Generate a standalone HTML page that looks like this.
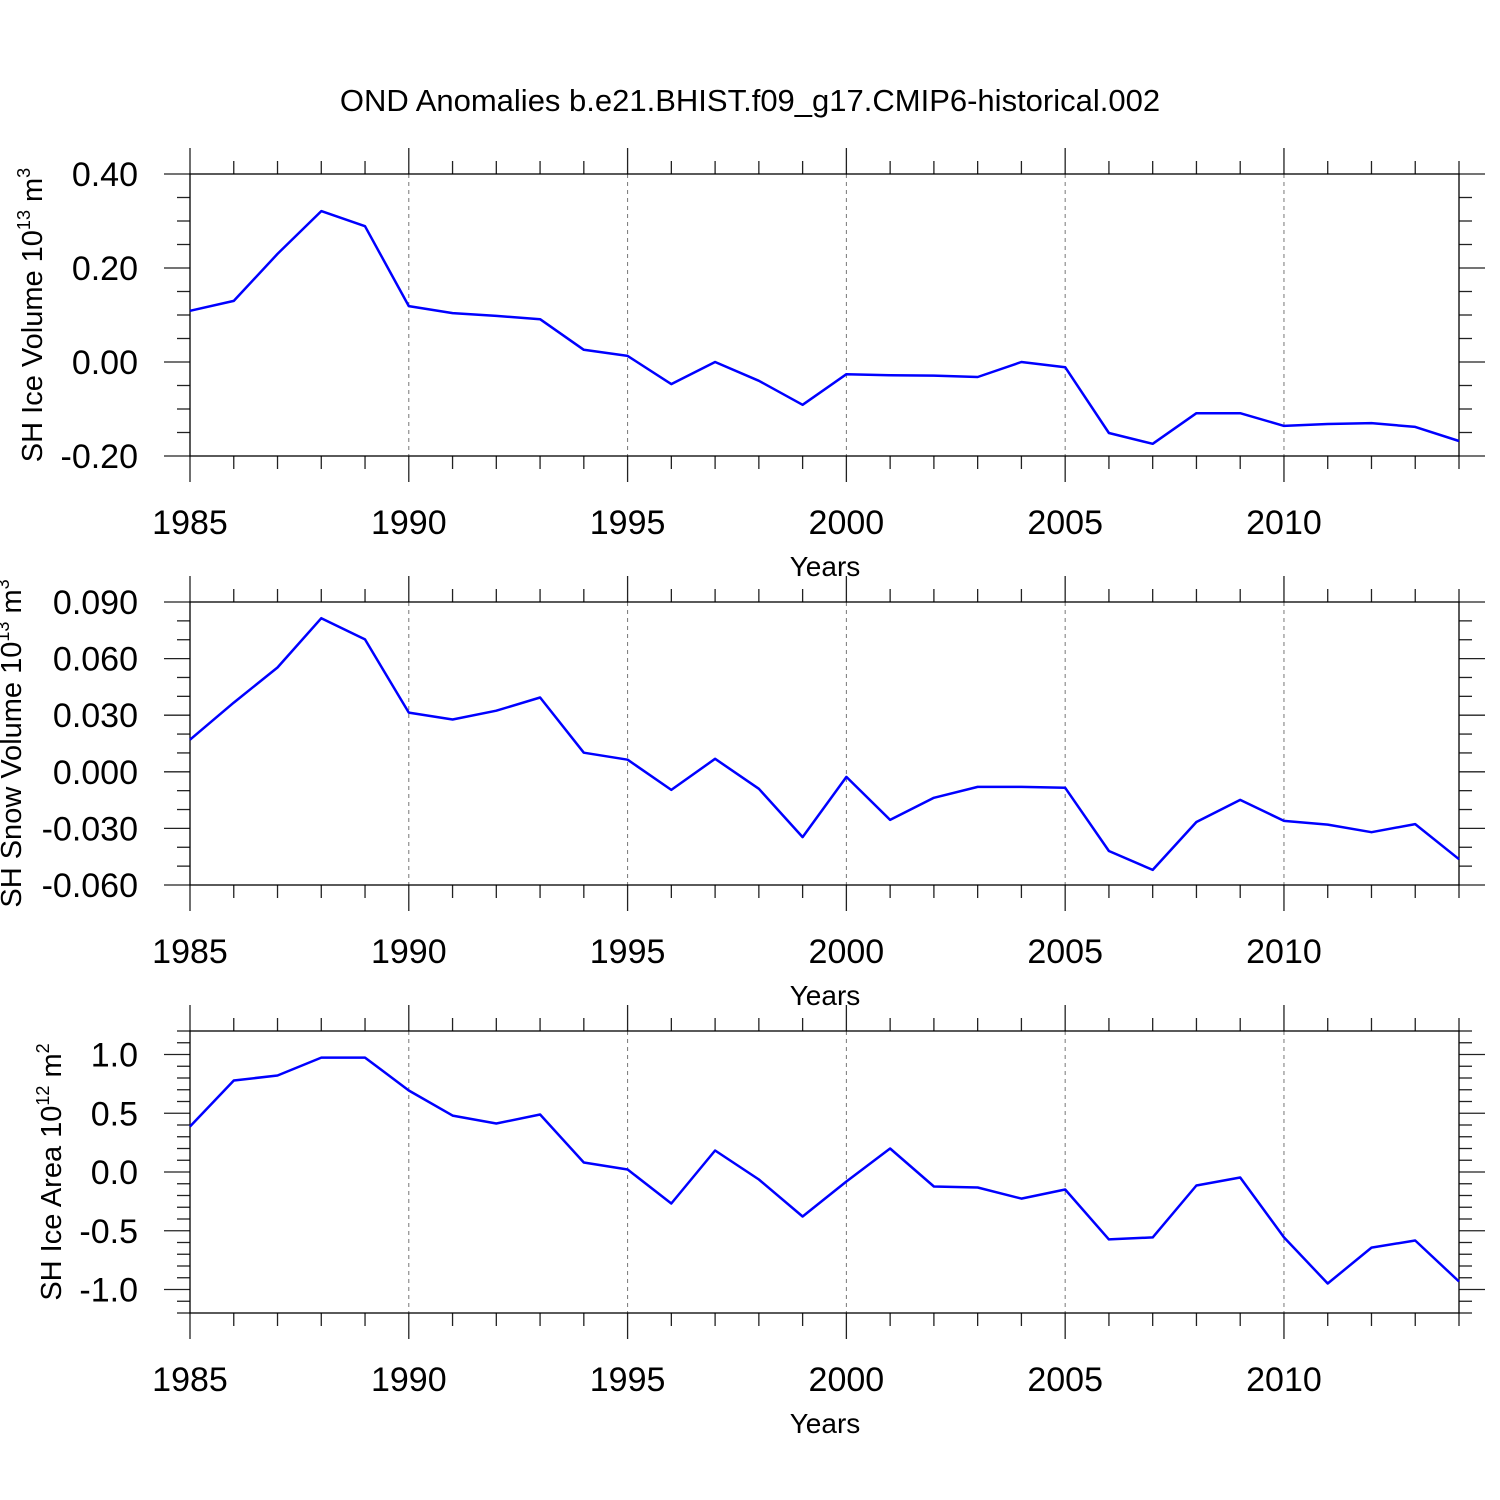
<!DOCTYPE html>
<html><head><meta charset="utf-8"><style>
body{margin:0;background:#fff}
svg{display:block}
text{font-family:"Liberation Sans",sans-serif;fill:#000}
</style></head><body>
<svg id="c" width="1500" height="1500" viewBox="0 0 1500 1500">
<text x="750" y="111" font-size="31" text-anchor="middle">OND Anomalies b.e21.BHIST.f09_g17.CMIP6-historical.002</text>
</svg>
<script>
const years = [1985,1986,1987,1988,1989,1990,1991,1992,1993,1994,1995,1996,1997,1998,1999,2000,2001,2002,2003,2004,2005,2006,2007,2008,2009,2010,2011,2012,2013,2014];
const iceVolume = [0.109,0.13,0.23,0.321,0.289,0.119,0.104,0.098,0.091,0.026,0.013,-0.047,0.0,-0.04,-0.091,-0.026,-0.028,-0.029,-0.032,0.0,-0.011,-0.151,-0.174,-0.109,-0.109,-0.136,-0.132,-0.13,-0.138,-0.168];
const snowVolume = [0.017,0.0367,0.0553,0.0814,0.0702,0.0314,0.0277,0.0324,0.0394,0.0101,0.0064,-0.0096,0.0069,-0.009,-0.0346,-0.0027,-0.0255,-0.0138,-0.008,-0.008,-0.0085,-0.042,-0.052,-0.0266,-0.0149,-0.026,-0.028,-0.032,-0.0277,-0.0463];
const iceArea = [0.387,0.779,0.821,0.974,0.974,0.694,0.48,0.413,0.489,0.081,0.021,-0.268,0.183,-0.064,-0.379,-0.081,0.2,-0.123,-0.132,-0.226,-0.149,-0.574,-0.557,-0.115,-0.047,-0.557,-0.949,-0.643,-0.583,-0.932];
const xTicks = [1985,1990,1995,2000,2005,2010];
const yTicks1 = [0.40,0.20,0.00,-0.20];
const yTickLabels1 = ["0.40","0.20","0.00","-0.20"];
const yTicks2 = [0.09,0.06,0.03,0,-0.03,-0.06];
const yTickLabels2 = ["0.090","0.060","0.030","0.000","-0.030","-0.060"];
const yTicks3 = [1,0.5,0,-0.5,-1];
const yTickLabels3 = ["1.0","0.5","0.0","-0.5","-1.0"];

const svg = document.getElementById('c');
const NS = 'http://www.w3.org/2000/svg';
function mk(tag, attrs, parent){const e=document.createElementNS(NS,tag);for(const k in attrs)e.setAttribute(k,attrs[k]);(parent||svg).appendChild(e);return e;}
const X0=190,X1=1459;
function xs(yr){return X0+(yr-1985)/(2014-1985)*(X1-X0);}

function panel(name, top, bot, ymax, ymin, minorStep, ticks, labels, values, labelFont, ytitle, sup, unit, unitSup, ytitleX){
  const g = mk('g',{});
  
  
  const ys = v => top+(ymax-v)/(ymax-ymin)*(bot-top);
  for(const t of xTicks){ if(t===1985) continue;
    const l=mk('line',{x1:xs(t),x2:xs(t),y1:top,y2:bot,stroke:'#777','stroke-width':1,'stroke-dasharray':'4,4'},g);
    
     }
  for(const yr of years){
    const major = (yr%5===0);
    const len = major?26:13;
    mk('line',{x1:xs(yr),x2:xs(yr),y1:top-len,y2:top,stroke:'#222','stroke-width':1.3},g);
    mk('line',{x1:xs(yr),x2:xs(yr),y1:bot,y2:bot+len,stroke:'#222','stroke-width':1.3},g);
  }
  const n = Math.round((ymax-ymin)/minorStep);
  for(let i=0;i<=n;i++){
    const v = ymax - i*minorStep;
    const isMajor = ticks.some(t=>Math.abs(t-v)<minorStep/10);
    const len = isMajor?26:13;
    const y = ys(v);
    mk('line',{x1:X0-len,x2:X0,y1:y,y2:y,stroke:'#222','stroke-width':1.3},g);
    mk('line',{x1:X1,x2:X1+len,y1:y,y2:y,stroke:'#222','stroke-width':1.3},g);
  }
  const fr=mk('rect',{x:X0,y:top,width:X1-X0,height:bot-top,fill:'none',stroke:'#000','stroke-width':1.3},g);
  
  
  ticks.forEach((t,i)=>{
    const tx=mk('text',{x:138,y:ys(t)+12,'font-size':labelFont,'text-anchor':'end'},g);
    tx.textContent=labels[i];
    
    
  });
  xTicks.forEach(t=>{
    const tx=mk('text',{x:xs(t),y:bot+78,'font-size':34,'text-anchor':'middle'},g);
    tx.textContent=String(t);
    
    
  });
  const xt=mk('text',{x:825,y:bot+120,'font-size':28,'text-anchor':'middle'},g);
  xt.textContent='Years';
  
  
  const cy=(top+bot)/2;
  const yt=mk('text',{x:0,y:0,'font-size':29,'text-anchor':'middle',transform:`translate(${ytitleX},${cy}) rotate(-90)`},g);
  const s1=mk('tspan',{},yt); s1.textContent=ytitle;
  const s2=mk('tspan',{dy:-12,'font-size':18},yt); s2.textContent=sup;
  const s3=mk('tspan',{dy:12},yt); s3.textContent=' '+unit;
  const s4=mk('tspan',{dy:-12,'font-size':18},yt); s4.textContent=unitSup;
  
  
  const pts = values.map((v,i)=>xs(years[i]).toFixed(1)+','+ys(v).toFixed(1)).join(' ');
  const pl=mk('polyline',{points:pts,fill:'none',stroke:'#0000ff','stroke-width':2.5,'stroke-linejoin':'round'},g);
  
  
}
panel('ice-volume',174,456,0.40,-0.20,0.05,yTicks1,yTickLabels1,iceVolume,34,'SH Ice Volume 10','13','m','3',42);
panel('snow-volume',602,885,0.09,-0.06,0.01,yTicks2,yTickLabels2,snowVolume,34,'SH Snow Volume 10','13','m','3',21);
panel('ice-area',1031,1313,1.2,-1.2,0.1,yTicks3,yTickLabels3,iceArea,34,'SH Ice Area 10','12','m','2',61);
</script>
</body></html>
